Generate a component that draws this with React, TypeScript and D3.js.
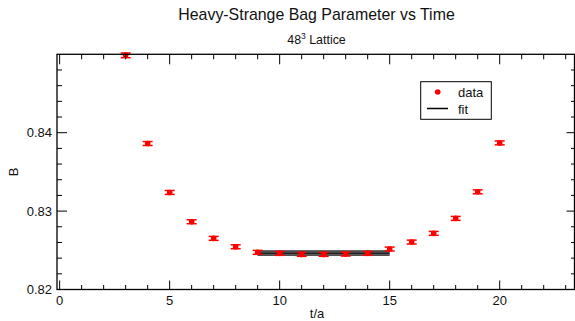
import React from "react";
import * as d3 from "d3";

const tValues = [3, 4, 5, 6, 7, 8, 9, 10, 11, 12, 13, 14, 15, 16, 17, 18, 19, 20];
const bValues = [0.84987, 0.83862, 0.83238, 0.82864, 0.82652, 0.82545, 0.82474, 0.82461, 0.82448, 0.82448, 0.82452, 0.82461, 0.82516, 0.82605, 0.82716, 0.82907, 0.83246, 0.8387];
const bErrors = [0.0003, 0.00025, 0.00025, 0.00025, 0.00025, 0.00025, 0.00025, 0.00025, 0.00025, 0.00025, 0.00025, 0.00025, 0.00025, 0.00025, 0.00025, 0.00025, 0.00025, 0.00025];
const fitRange = [9, 15];
const fitValue = 0.82465;
const fitError = 0.00027;
const xMajorTicks = [0, 5, 10, 15, 20];
const yMajorTicks = [0.82, 0.83, 0.84];
const legendLabels = ["data", "fit"];

const W = 575;
const H = 321;
const left = 57;
const right = 574.5;
const top = 54.3;
const bottom = 289.5;

export default function App() {
  const x = d3.scaleLinear().domain([-0.12, 23.4]).range([left, right]);
  const y = d3.scaleLinear().domain([0.82, 0.85]).range([bottom, top]);

  const xMinor = d3.range(0, 24, 1).filter((v) => x(v) <= right && v % 5 !== 0);
  const yMinor = d3.range(0, 16).map((i) => 0.82 + i * 0.002).filter((v) => Math.abs((v * 100) % 1) > 0.01 && Math.abs((v * 100) % 1) < 0.99);

  const font = "'Liberation Sans', Arial, Helvetica, sans-serif";
  const fx0 = x(fitRange[0]);
  const fx1 = x(fitRange[1]);

  return (
    <svg width={W} height={H} style={{ position: "fixed", left: 0, top: 0, background: "#fff" }} fontFamily={font}>
      <rect x={0} y={0} width={W} height={H} fill="#fff" />
      <text x={316.5} y={20.3} textAnchor="middle" fontSize={15.9} fill="#111">Heavy-Strange Bag Parameter vs Time</text>
      <text x={316.5} y={44.3} textAnchor="middle" fontSize={12.4} fill="#111">
        48<tspan dy={-5.5} fontSize={8.5}>3</tspan><tspan dy={5.5}> Lattice</tspan>
      </text>

      {/* fit band */}
      <rect x={fx0} y={y(fitValue + fitError)} width={fx1 - fx0} height={y(fitValue - fitError) - y(fitValue + fitError)} fill="#888" />
      <line x1={fx0} x2={fx1} y1={y(fitValue + fitError)} y2={y(fitValue + fitError)} stroke="#000" strokeWidth={1} />
      <line x1={fx0} x2={fx1} y1={y(fitValue - fitError)} y2={y(fitValue - fitError)} stroke="#000" strokeWidth={1} />
      <line x1={fx0} x2={fx1} y1={y(fitValue)} y2={y(fitValue)} stroke="#000" strokeWidth={1.2} />

      {/* data */}
      {tValues.map((t, i) => {
        const cx = x(t);
        const cy = y(bValues[i]);
        const y1 = y(bValues[i] + bErrors[i]);
        const y2 = y(bValues[i] - bErrors[i]);
        return (
          <g key={t}>
            <line x1={cx} x2={cx} y1={y1} y2={y2} stroke="#f00" strokeWidth={1.5} />
            <line x1={cx - 5} x2={cx + 5} y1={y1} y2={y1} stroke="#f00" strokeWidth={1.5} />
            <line x1={cx - 5} x2={cx + 5} y1={y2} y2={y2} stroke="#f00" strokeWidth={1.5} />
            <circle cx={cx} cy={cy} r={2.8} fill="#f00" />
          </g>
        );
      })}

      {/* frame */}
      <rect x={left} y={top} width={right - left} height={bottom - top} fill="none" stroke="#000" strokeWidth={1.3} />

      {/* x ticks */}
      {xMajorTicks.map((v) => (
        <g key={"xm" + v}>
          <line x1={x(v)} x2={x(v)} y1={bottom} y2={bottom - 9} stroke="#000" />
          <line x1={x(v)} x2={x(v)} y1={top} y2={top + 10} stroke="#000" />
          <text x={x(v)} y={305} textAnchor="middle" fontSize={13} fill="#111">{v}</text>
        </g>
      ))}
      {xMinor.map((v) => (
        <g key={"xn" + v}>
          <line x1={x(v)} x2={x(v)} y1={bottom} y2={bottom - 4.5} stroke="#000" />
          <line x1={x(v)} x2={x(v)} y1={top} y2={top + 5} stroke="#000" />
        </g>
      ))}

      {/* y ticks */}
      {yMajorTicks.map((v) => (
        <g key={"ym" + v}>
          <line x1={left} x2={left + 10} y1={y(v)} y2={y(v)} stroke="#000" />
          <line x1={right} x2={right - 8} y1={y(v)} y2={y(v)} stroke="#000" />
          <text x={52} y={y(v) + 4.5} textAnchor="end" fontSize={13} fill="#111">{v.toFixed(2)}</text>
        </g>
      ))}
      {yMinor.map((v) => (
        <g key={"yn" + v}>
          <line x1={left} x2={left + 5} y1={y(v)} y2={y(v)} stroke="#000" />
          <line x1={right} x2={right - 3.5} y1={y(v)} y2={y(v)} stroke="#000" />
        </g>
      ))}

      <text x={317} y={318} textAnchor="middle" fontSize={13} fill="#111">t/a</text>
      <text transform="translate(18,172) rotate(-90)" textAnchor="middle" fontSize={13} fill="#111">B</text>

      {/* legend */}
      <rect x={420.7} y={81.7} width={70.6} height={37.6} fill="#fff" stroke="#000" strokeWidth={1} />
      <circle cx={437.7} cy={92} r={2.8} fill="#f00" />
      <text x={458} y={97} fontSize={13} fill="#111">{legendLabels[0]}</text>
      <line x1={427} x2={448} y1={108.5} y2={108.5} stroke="#000" strokeWidth={1.5} />
      <text x={458} y={113.5} fontSize={13} fill="#111">{legendLabels[1]}</text>
    </svg>
  );
}
